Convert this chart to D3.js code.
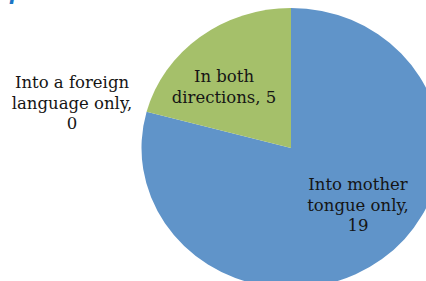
<!DOCTYPE html>
<html>
<head>
<meta charset="utf-8">
<script src="https://cdn.jsdelivr.net/npm/d3@7"></script>
<style>
  html, body { margin: 0; padding: 0; background: #fff; overflow: hidden; }
  svg { display: block; }
</style>
</head>
<body>
<svg id="chart"></svg>
<script>
const categories = ["Into mother tongue only", "Into a foreign language only", "In both directions"];
const values = [19, 0, 5];
const colors = ["#6094c9", "#9e9e9e", "#a5c06a"];

const W = 426, H = 281;
const cx = 291, cy = 148, rx = 149.5, ry = 140;

// where excel put each label (center x, first baseline)
const labelAt = {
    "Into mother tongue only": [358, 190],
    "Into a foreign language only": [72, 88],
    "In both directions": [224, 82]
};

const data = categories.map((c, i) => ({ cat: c, value: values[i], color: colors[i] }));

const svg = d3.select("#chart").attr("width", W).attr("height", H);

// bit of the heading above, cut off by the crop
svg.append("text")
    .attr("x", 9).attr("y", 0)
    .style("font-family", "DejaVu Serif")
    .style("font-style", "italic")
    .style("font-weight", "bold")
    .style("font-size", "20px")
    .attr("fill", "#1b75c4")
    .text("p");

const pie = d3.pie().sort(null).value(d => d.value);
const arc = d3.arc().innerRadius(0).outerRadius(rx);

svg.append("g")
    .attr("transform", `translate(${cx},${cy}) scale(1,${ry / rx})`)
    .selectAll("path")
    .data(pie(data))
    .enter().append("path")
    .attr("d", arc)
    .attr("fill", d => d.data.color);

const lineH = 20.5;
const maxW = 124;

data.forEach(d => {
    const [x, y] = labelAt[d.cat];
    const t = svg.append("text")
        .attr("text-anchor", "middle")
        .style("font-family", "DejaVu Serif")
        .style("font-size", "16.5px")
        .attr("fill", "#151515");
    const words = `${d.cat}, ${d.value}`.split(" ");
    let line = [], lineNo = 0;
    let tspan = t.append("tspan").attr("x", x).attr("y", y);
    words.forEach(w => {
        line.push(w);
        tspan.text(line.join(" "));
        if (tspan.node().getComputedTextLength() > maxW && line.length > 1) {
            line.pop();
            tspan.text(line.join(" "));
            line = [w];
            lineNo++;
            tspan = t.append("tspan").attr("x", x).attr("y", y + lineNo * lineH).text(w);
        }
    });
});
</script>
</body>
</html>
